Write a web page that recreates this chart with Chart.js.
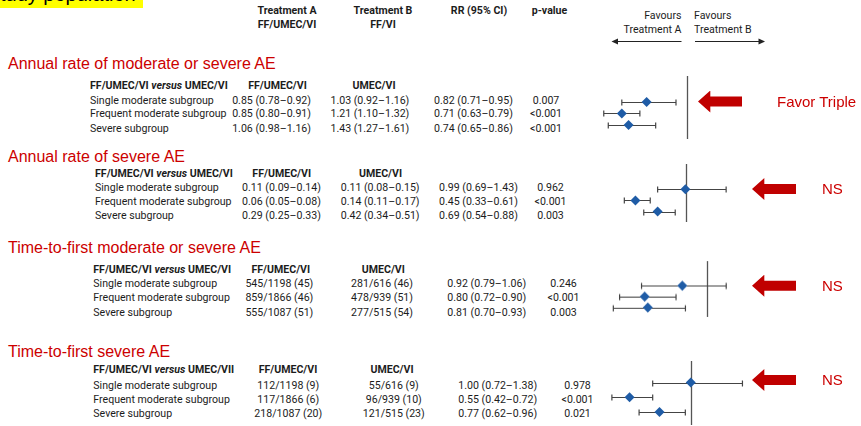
<!DOCTYPE html>
<html>
<head>
<meta charset="utf-8">
<script src="https://cdn.jsdelivr.net/npm/chart.js@4.4.1/dist/chart.umd.min.js"></script>
<style>
  html, body { margin: 0; padding: 0; background: #fff; }
  #page { position: relative; width: 861px; height: 426px; overflow: hidden; font-family: Roboto, "Noto Sans", sans-serif; color: #1c1c1c; }
  .t { position: absolute; white-space: nowrap; font-size: 10.6px; line-height: 13.3px; transform: translateY(-50%); }
  .b { font-weight: 700; }
  .title { position: absolute; white-space: nowrap; font-family: "Liberation Sans", Arial, sans-serif; font-size: 16px; line-height: 18px; color: #cc0000; transform: translateY(-50%); }
  .note { position: absolute; white-space: nowrap; font-family: "Liberation Sans", Arial, sans-serif; font-size: 15px; line-height: 17px; color: #cc0000; transform: translateY(-50%); }
  .arrow { position: absolute; width: 44px; height: 22px; background: #c00000; clip-path: polygon(0 50%, 28% 0, 28% 27%, 100% 27%, 100% 73%, 28% 73%, 28% 100%); transform: translateY(-50%); }
  canvas { position: absolute; }
  #banner { position: absolute; left: 0; top: 0; width: 143px; height: 8px; background: #ffff00; overflow: hidden; }
  #banner span { position: absolute; left: 0; top: -17px; font-family: "Liberation Sans", Arial, sans-serif; font-size: 20px; line-height: 22px; color: #000; }
</style>
</head>
<body>
<div id="page">
  <div id="banner"><span>tudy population</span></div>
  <svg id="favArrows" width="861" height="60" style="position:absolute;left:0;top:0">
    <line x1="616" y1="41.5" x2="681.5" y2="41.5" stroke="#222" stroke-width="1"/>
    <polygon points="611.5,41.5 618,38.5 618,44.5" fill="#222"/>
    <line x1="695" y1="41.5" x2="760" y2="41.5" stroke="#222" stroke-width="1"/>
    <polygon points="765,41.5 758.5,38.5 758.5,44.5" fill="#222"/>
  </svg>
</div>
<script>
// ---- data ----
const subgroups = ["Single moderate subgroup", "Frequent moderate subgroup", "Severe subgroup"];
const analysisTitles = [
  "Annual rate of moderate or severe AE",
  "Annual rate of severe AE",
  "Time-to-first moderate or severe AE",
  "Time-to-first severe AE"
];
const comparisonSuffix = ["UMEC/VI", "UMEC/VI", "UMEC/VI", "UMEC/VII"];
const verdicts = ["Favor Triple", "NS", "NS", "NS"];

// Annual rate of moderate or severe AE
const modSevRateTriple = ["0.85 (0.78–0.92)", "0.85 (0.80–0.91)", "1.06 (0.98–1.16)"];
const modSevRateDual   = ["1.03 (0.92–1.16)", "1.21 (1.10–1.32)", "1.43 (1.27–1.61)"];
const modSevRR   = [0.82, 0.71, 0.74];
const modSevLow  = [0.71, 0.63, 0.65];
const modSevHigh = [0.95, 0.79, 0.86];
const modSevP    = ["0.007", "<0.001", "<0.001"];

// Annual rate of severe AE
const sevRateTriple = ["0.11 (0.09–0.14)", "0.06 (0.05–0.08)", "0.29 (0.25–0.33)"];
const sevRateDual   = ["0.11 (0.08–0.15)", "0.14 (0.11–0.17)", "0.42 (0.34–0.51)"];
const sevRR   = [0.99, 0.45, 0.69];
const sevLow  = [0.69, 0.33, 0.54];
const sevHigh = [1.43, 0.61, 0.88];
const sevP    = ["0.962", "<0.001", "0.003"];

// Time-to-first moderate or severe AE
const ttfModSevTriple = ["545/1198 (45)", "859/1866 (46)", "555/1087 (51)"];
const ttfModSevDual   = ["281/616 (46)", "478/939 (51)", "277/515 (54)"];
const ttfModSevRR   = [0.92, 0.80, 0.81];
const ttfModSevLow  = [0.79, 0.72, 0.70];
const ttfModSevHigh = [1.06, 0.90, 0.93];
const ttfModSevP    = ["0.246", "<0.001", "0.003"];

// Time-to-first severe AE
const ttfSevTriple = ["112/1198 (9)", "117/1866 (6)", "218/1087 (20)"];
const ttfSevDual   = ["55/616 (9)", "96/939 (10)", "121/515 (23)"];
const ttfSevRR   = [1.00, 0.55, 0.77];
const ttfSevLow  = [0.72, 0.42, 0.62];
const ttfSevHigh = [1.38, 0.72, 0.96];
const ttfSevP    = ["0.978", "<0.001", "0.021"];

const panelData = [
  { triple: modSevRateTriple, dual: modSevRateDual, rr: modSevRR, lo: modSevLow, hi: modSevHigh, p: modSevP },
  { triple: sevRateTriple, dual: sevRateDual, rr: sevRR, lo: sevLow, hi: sevHigh, p: sevP },
  { triple: ttfModSevTriple, dual: ttfModSevDual, rr: ttfModSevRR, lo: ttfModSevLow, hi: ttfModSevHigh, p: ttfModSevP },
  { triple: ttfSevTriple, dual: ttfSevDual, rr: ttfSevRR, lo: ttfSevLow, hi: ttfSevHigh, p: ttfSevP }
];

// ---- layout (page pixels) ----
const panelLayout = [
  { title: 64, header: 86, rows: [101, 114.3, 128.7], labelX: 90,
    c1: { x: 311, a: "right" }, c1Head: 277.5, c2: { x: 409.3, a: "right" }, c2Head: 374,
    rrX: 434, pX: 546, refX: 688, pxPerUnit: 239, lineTop: 71, lineBottom: 144, markFirst: 101, markLast: 127.7, arrowY: 101.5 },
  { title: 157, header: 174.3, rows: [188.3, 201.7, 216], labelX: 95,
    c1: { x: 242, a: "left" }, c1Head: 281.7, c2: { x: 340.7, a: "left" }, c2Head: 380.5,
    rrX: 439, pX: 550.5, refX: 687, pxPerUnit: 98, lineTop: 159.3, lineBottom: 227.3, markFirst: 189, markLast: 215, arrowY: 189 },
  { title: 248.3, header: 270, rows: [284.3, 298.3, 313.3], labelX: 93.3,
    c1: { x: 313.3, a: "right" }, c1Head: 280.8, c2: { x: 413, a: "right" }, c2Head: 383.3,
    rrX: 447.3, pX: 563.5, refX: 709.3, pxPerUnit: 332, lineTop: 256, lineBottom: 321.7, markFirst: 285, markLast: 310.7, arrowY: 285.7 },
  { title: 351.7, header: 370, rows: [386, 400, 414.3], labelX: 93.3,
    c1: { x: 288.3, a: "center" }, c1Head: 288, c2: { x: 393.8, a: "center" }, c2Head: 392,
    rrX: 458.3, pX: 577.5, refX: 691.7, pxPerUnit: 144, lineTop: 356, lineBottom: 430, markFirst: 381, markLast: 415, arrowY: 380 }
];
const plotLeft = 585, plotWidth = 180;

const page = document.getElementById("page");

function addText(html, x, y, align, cls) {
  const d = document.createElement("div");
  d.className = cls || "t";
  d.innerHTML = html;
  d.style.top = y + "px";
  if (align === "right") { d.style.right = (861 - x) + "px"; }
  else if (align === "center") { d.style.left = x + "px"; d.style.transform = "translate(-50%, -50%)"; }
  else { d.style.left = x + "px"; }
  page.appendChild(d);
  return d;
}

// column headings across the top
addText("Treatment A", 287, 10.7, "center", "t b");
addText("FF/UMEC/VI", 287, 25, "center", "t b");
addText("Treatment B", 383, 10.7, "center", "t b");
addText("FF/VI", 383, 25, "center", "t b");
addText("RR (95% CI)", 479, 10.5, "center", "t b");
addText("p-value", 549.5, 10.5, "center", "t b");
addText("Favours<br>Treatment A", 681.5, 22.3, "right", "t").style.textAlign = "right";
addText("Favours<br>Treatment B", 694, 22.3, "left", "t");

function fmtCI(v, l, h) { return v.toFixed(2) + " (" + l.toFixed(2) + "–" + h.toFixed(2) + ")"; }

// draws the CI whiskers and the RR = 1 reference line
const forestPlugin = {
  id: "forest",
  beforeDatasetsDraw(chart) {
    const { ctx, chartArea, scales } = chart;
    const xs = scales.x, ys = scales.y;
    ctx.save();
    const xr = Math.round(xs.getPixelForValue(1)) + 0.5;
    ctx.strokeStyle = "#555";
    ctx.lineWidth = 1.3;
    ctx.beginPath();
    ctx.moveTo(xr, chartArea.top);
    ctx.lineTo(xr, chartArea.bottom);
    ctx.stroke();
    ctx.strokeStyle = "#444";
    ctx.lineWidth = 1.2;
    chart.data.datasets[0].data.forEach(d => {
      const y = Math.round(ys.getPixelForValue(d.y)) + 0.5;
      const x1 = xs.getPixelForValue(d.lo), x2 = xs.getPixelForValue(d.hi);
      ctx.beginPath();
      ctx.moveTo(x1, y); ctx.lineTo(x2, y);
      ctx.moveTo(x1, y - 3); ctx.lineTo(x1, y + 3);
      ctx.moveTo(x2, y - 3); ctx.lineTo(x2, y + 3);
      ctx.stroke();
    });
    ctx.restore();
  }
};

panelLayout.forEach((L, i) => {
  const D = panelData[i];
  addText(analysisTitles[i], 8, L.title, "left", "title");
  addText("FF/UMEC/VI <i>versus</i> " + comparisonSuffix[i], L.labelX, L.header, "left", "t b");
  addText("FF/UMEC/VI", L.c1Head, L.header, "center", "t b");
  addText("UMEC/VI", L.c2Head, L.header, "center", "t b");
  subgroups.forEach((s, r) => {
    const y = L.rows[r];
    addText(s, L.labelX, y, "left");
    addText(D.triple[r], L.c1.x, y, L.c1.a);
    addText(D.dual[r], L.c2.x, y, L.c2.a);
    addText(fmtCI(D.rr[r], D.lo[r], D.hi[r]), L.rrX, y, "left");
    addText(D.p[r], L.pX, y, "center");
  });

  // forest plot canvas
  const h = L.lineBottom - L.lineTop;
  const cv = document.createElement("canvas");
  cv.width = plotWidth; cv.height = h;
  cv.style.left = plotLeft + "px"; cv.style.top = L.lineTop + "px";
  cv.style.width = plotWidth + "px"; cv.style.height = h + "px";
  page.appendChild(cv);
  const step = (L.markLast - L.markFirst) / 2;
  const xMin = 1 - (L.refX - plotLeft) / L.pxPerUnit;
  const yMin = (L.lineTop - L.markFirst) / step;
  new Chart(cv, {
    type: "scatter",
    data: {
      datasets: [{
        data: D.rr.map((v, r) => ({ x: v, y: r, lo: D.lo[r], hi: D.hi[r] })),
        pointStyle: "rectRot",
        pointRadius: 5,
        backgroundColor: "#1f5ca6",
        borderColor: "#1f5ca6",
        borderWidth: 0,
        clip: false
      }]
    },
    options: {
      responsive: false,
      animation: false,
      events: [],
      devicePixelRatio: 1,
      layout: { padding: 0 },
      plugins: { legend: { display: false }, tooltip: { enabled: false } },
      scales: {
        x: { type: "linear", display: false, min: xMin, max: xMin + plotWidth / L.pxPerUnit },
        y: { type: "linear", display: false, reverse: true, min: yMin, max: yMin + h / step }
      }
    },
    plugins: [forestPlugin]
  });

  // verdict arrow and label
  const a = document.createElement("div");
  a.className = "arrow";
  a.style.left = (i === 0 ? 698 : 752) + "px";
  a.style.top = L.arrowY + "px";
  page.appendChild(a);
  addText(verdicts[i], i === 0 ? 777 : 822, L.arrowY - 1, "left", "note");
});
</script>
</body>
</html>
